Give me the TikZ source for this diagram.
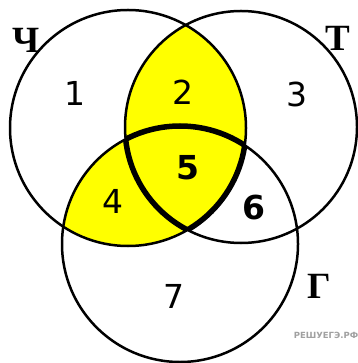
\documentclass[tikz,border=0pt]{standalone}
\usepackage{fontspec}
\setmainfont{Liberation Serif}
\newfontfamily\numfont{DejaVu Sans}
\definecolor{venyellow}{HTML}{FFFF00}
\definecolor{wmgray}{HTML}{A0A0A0}
\begin{document}
\begin{tikzpicture}[x=1pt,y=-1pt,
  ring/.style={draw=black,line width=2.5pt},
  edge5/.style={draw=black,line width=5.5pt},
  num/.style={font=\numfont\fontsize{33}{33}\selectfont,inner sep=0pt},
  numb/.style={font=\numfont\bfseries\fontsize{33}{33}\selectfont,inner sep=0pt},
  setlabel/.style={font=\bfseries\fontsize{37}{37}\selectfont,inner sep=0pt},
  wm/.style={font=\numfont\bfseries\fontsize{8.5}{8.5}\selectfont,text=wmgray,inner sep=0pt}]
\useasboundingbox (0,0) rectangle (357,363);
\coordinate (cH) at (128,128);
\coordinate (cT) at (241,127);
\coordinate (cG) at (180,244);
% yellow regions
\begin{scope}
  \clip (cH) circle (118pt);
  \fill[venyellow] (cT) circle (116pt);
  \fill[venyellow] (cG) circle (118pt);
\end{scope}
% circles
\draw[ring] (cH) circle (118pt);
\draw[ring] (cT) circle (116pt);
\draw[ring] (cG) circle (118pt);
% thicker edges of region 5
\begin{scope}
  \clip (cH) circle (118pt);
  \clip (cT) circle (116pt);
  \draw[edge5] (cG) circle (118pt);
\end{scope}
\begin{scope}
  \clip (cH) circle (118pt);
  \clip (cG) circle (118pt);
  \draw[edge5] (cT) circle (116pt);
\end{scope}
\begin{scope}
  \clip (cT) circle (116pt);
  \clip (cG) circle (118pt);
  \draw[edge5] (cH) circle (118pt);
\end{scope}
% numbers
\node[num]  (n1) at (75,93)   {1};
\node[num]  (n2) at (183,92)  {2};
\node[num]  (n3) at (297,94)  {3};
\node[num]  (n4) at (113,201) {4};
\node[numb] (n5) at (188,168) {5};
\node[numb] (n6) at (254,208) {6};
\node[num]  (n7) at (174,296) {7};
% set labels
\node[setlabel] (lH) at (26,40)  {Ч};
\node[setlabel] (lT) at (338,38) {Т};
\node[setlabel] (lG) at (319,286) {Г};
% watermark
\node[wm] (wm) at (326,335) {РЕШУЕГЭ.РФ};
\end{tikzpicture}
\end{document}
